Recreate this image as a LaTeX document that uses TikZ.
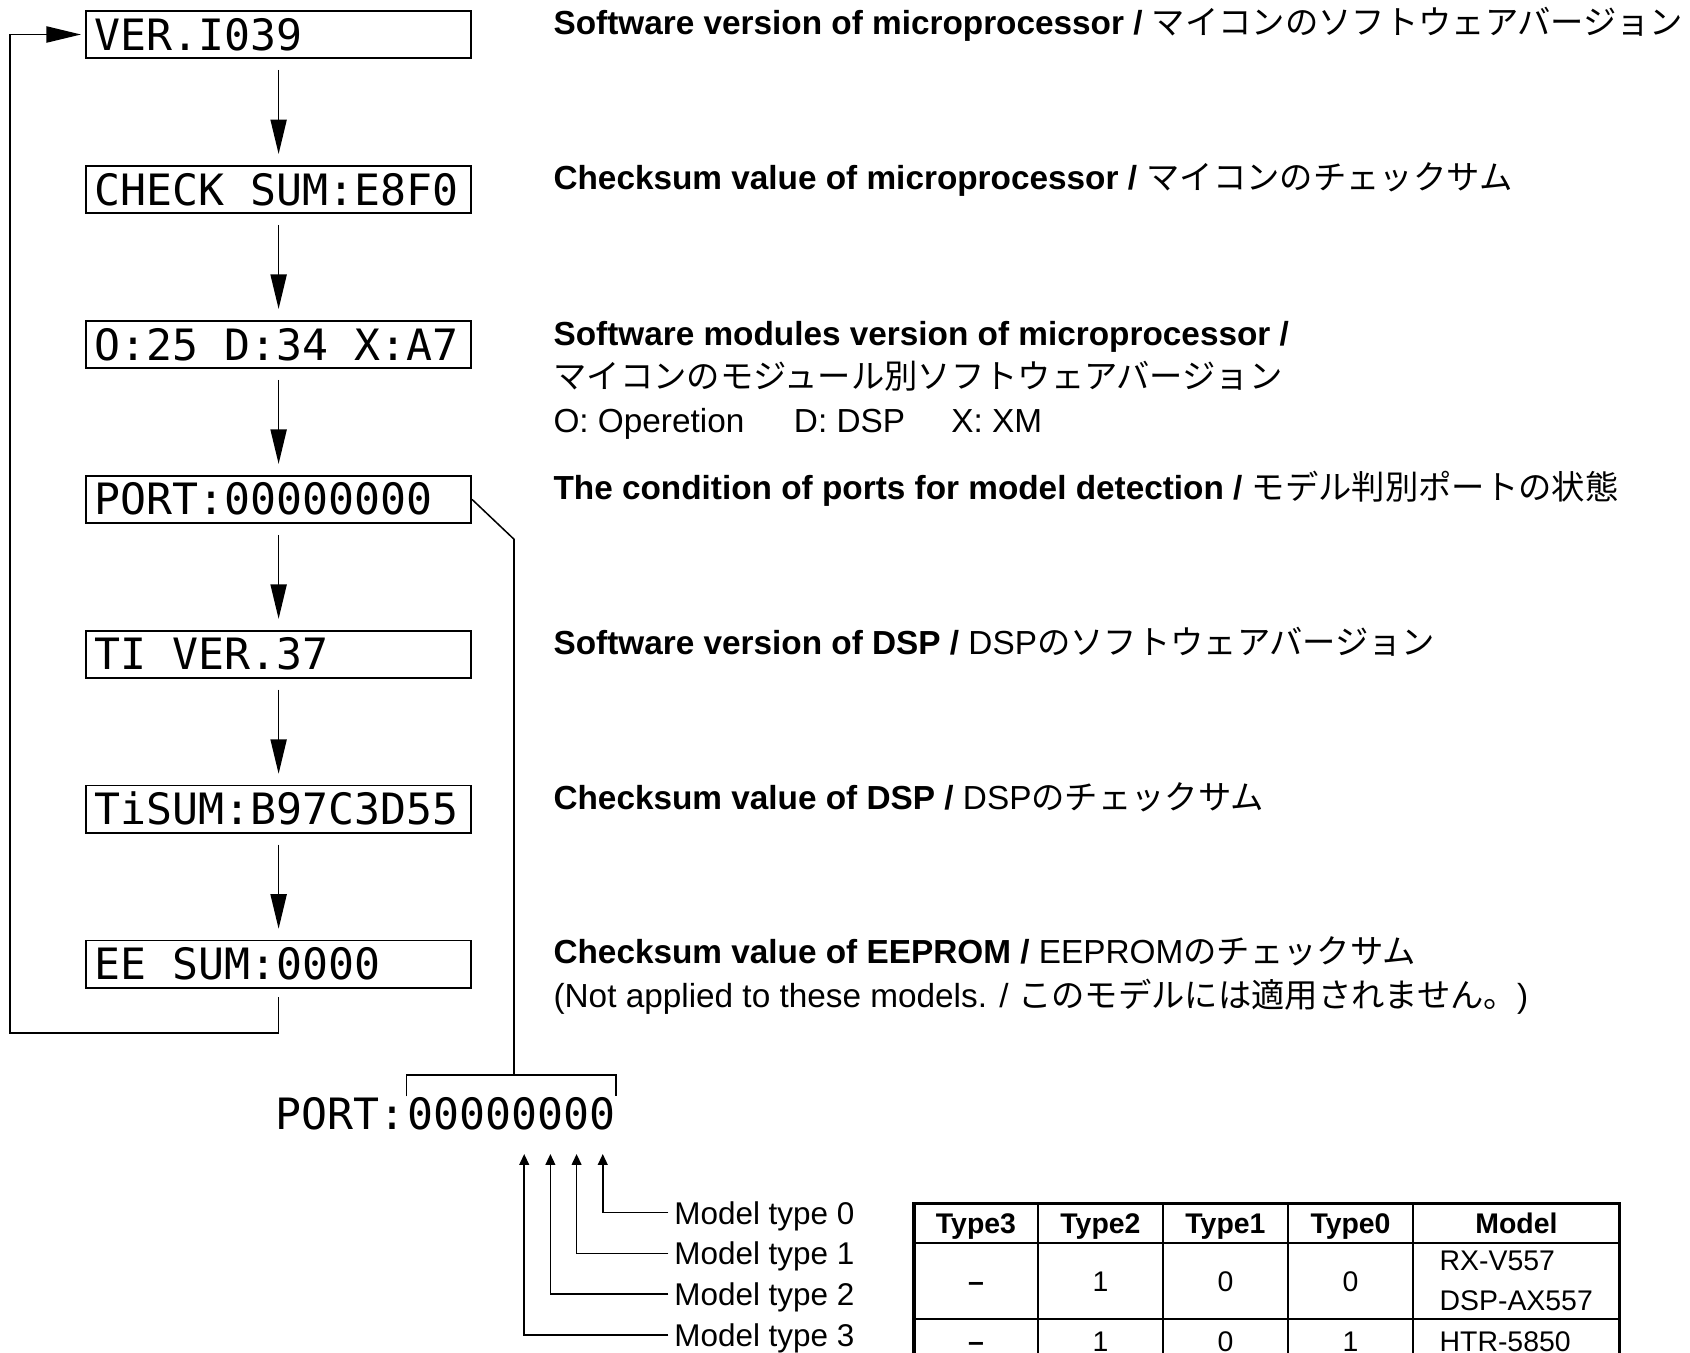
\documentclass[tikz,border=0pt]{standalone}
\usepackage{fontspec}
\setmainfont{Liberation Sans}
\newfontfamily\jp{Noto Sans CJK JP}
\newfontfamily\lcd{DejaVu Sans Mono}
\newcommand\lcdgap{\hphantom{0}}
\usetikzlibrary{arrows.meta,positioning,calc}

\begin{document}
\begin{tikzpicture}[
    lcdbox/.style={draw, line width=0.5pt, minimum height=4.4mm, text width=3.41cm, inner xsep=0.8mm, inner ysep=0pt, align=left, text height=2.9mm, text depth=0pt, font=\lcd\fontsize{11.4pt}{12pt}\selectfont},
    lcdtext/.style={inner sep=0pt, text height=2.9mm, text depth=0pt, font=\lcd\fontsize{11.4pt}{12pt}\selectfont},
    desc/.style={anchor=base west, align=left, inner sep=0pt, font=\fontsize{8.8pt}{11.6pt}\selectfont},
    mtype/.style={inner xsep=0.5mm, inner ysep=0pt, text height=2.9mm, text depth=0.74mm, font=\fontsize{8.3pt}{10pt}\selectfont},
    cell/.style={inner sep=0pt, text height=1.9mm, text depth=0pt, font=\fontsize{7.5pt}{10.5pt}\selectfont},
    headcell/.style={cell, font=\bfseries\fontsize{7.5pt}{10.5pt}\selectfont},
    arrow/.style={-{Triangle[length=3.2mm, width=1.5mm]}, shorten <=1mm, shorten >=1mm},
    tip/.style={-{Triangle[length=1mm, width=0.9mm]}},
    node distance=0.98cm
]
    \useasboundingbox (0,0) rectangle (15.68,-12.55);
    \clip (0,0) rectangle (15.68,-12.55);

    % Display steps
    \node[lcdbox] (ver) at (2.585,-0.32) {VER.I039};
    \node[lcdbox, below=of ver] (chk) {CHECK\lcdgap SUM:E8F0};
    \node[lcdbox, below=of chk] (mods) {O:25\lcdgap D:34\lcdgap X:A7};
    \node[lcdbox, below=of mods] (port) {PORT:00000000};
    \node[lcdbox, below=of port] (tiver) {TI\lcdgap VER.37};
    \node[lcdbox, below=of tiver] (tisum) {TiSUM:B97C3D55};
    \node[lcdbox, below=of tisum] (ee) {EE\lcdgap SUM:0000};

    % Step arrows
    \draw[arrow] (ver) -- (chk);
    \draw[arrow] (chk) -- (mods);
    \draw[arrow] (mods) -- (port);
    \draw[arrow] (port) -- (tiver);
    \draw[arrow] (tiver) -- (tisum);
    \draw[arrow] (tisum) -- (ee);
    \draw[arrow, shorten <=0.8mm, shorten >=0.4mm] (ee.south) -- ++(0,-0.41) -| ([xshift=-7mm]ver.west) -- (ver.west);

    % Descriptions
    \node[desc] (dver) at ([xshift=7.5mm, yshift=-2.3mm]ver.north east) {\textbf{Software version of microprocessor /} {\jp マイコンのソフトウェアバージョン}};
    \node[desc] (dchk) at ([xshift=7.5mm, yshift=-2.3mm]chk.north east) {\textbf{Checksum value of microprocessor /} {\jp マイコンのチェックサム}};
    \node[desc] (dmods) at ([xshift=7.5mm, yshift=-10.5mm]mods.north east) {\textbf{Software modules version of microprocessor /}\\{\jp マイコンのモジュール別ソフトウェアバージョン}\\O: Operetion\hspace{4.6mm}D: DSP\hspace{4.3mm}X: XM};
    \node[desc] (dport) at ([xshift=7.5mm, yshift=-2.3mm]port.north east) {\textbf{The condition of ports for model detection /} {\jp モデル判別ポートの状態}};
    \node[desc] (dtiver) at ([xshift=7.5mm, yshift=-2.3mm]tiver.north east) {\textbf{Software version of DSP /} DSP{\jp のソフトウェアバージョン}};
    \node[desc] (dtisum) at ([xshift=7.5mm, yshift=-2.3mm]tisum.north east) {\textbf{Checksum value of DSP /} DSP{\jp のチェックサム}};
    \node[desc] (dee) at ([xshift=7.5mm, yshift=-6.3mm]ee.north east) {\textbf{Checksum value of EEPROM /} EEPROM{\jp のチェックサム}\\(Not applied to these models. / {\jp このモデルには適用されません。})};

    % Port detail
    \node[lcdtext, anchor=west] (portlbl) at (2.55,-10.335) {PORT:};
    \node[lcdtext, right=0pt of portlbl] (bits) {00000000};
    \coordinate (brtop) at ([yshift=2.1mm]bits.north);
    \draw ([yshift=0.1mm]bits.north west) |- (brtop) -| ([yshift=0.1mm]bits.north east);
    \draw (port.east) -- ++(0.39,-0.37) |- (brtop);

    \coordinate (b0) at ($(bits.south west)!0.9375!(bits.south east) + (0,-0.22)$);
    \coordinate (b1) at ($(bits.south west)!0.8125!(bits.south east) + (0,-0.22)$);
    \coordinate (b2) at ($(bits.south west)!0.6875!(bits.south east) + (0,-0.22)$);
    \coordinate (b3) at ($(bits.south west)!0.5625!(bits.south east) + (0,-0.22)$);

    \node[mtype, anchor=west] (mt0) at (6.20,-11.25) {Model type 0};
    \node[mtype, below=0pt of mt0] (mt1) {Model type 1};
    \node[mtype, below=0pt of mt1] (mt2) {Model type 2};
    \node[mtype, below=0pt of mt2] (mt3) {Model type 3};
    \draw[tip] (mt0.west) -| (b0);
    \draw[tip] (mt1.west) -| (b1);
    \draw[tip] (mt2.west) -| (b2);
    \draw[tip] (mt3.west) -| (b3);

    % Model table
    \draw[line width=0.8pt] (8.48,-11.17) rectangle (15.03,-12.65);
    \draw[line width=0.6pt] (9.63,-11.17) -- (9.63,-12.65)
        (10.79,-11.17) -- (10.79,-12.65)
        (11.95,-11.17) -- (11.95,-12.65)
        (13.11,-11.17) -- (13.11,-12.65);
    \draw[line width=0.6pt] (8.48,-11.53) -- (15.03,-11.53)
        (8.48,-12.24) -- (15.03,-12.24);

    \node[headcell] (th3) at (9.055,-11.35) {Type3};
    \node[headcell] (th2) at (10.21,-11.35) {Type2};
    \node[headcell] (th1) at (11.37,-11.35) {Type1};
    \node[headcell] (th0) at (12.53,-11.35) {Type0};
    \node[headcell] (thm) at (14.07,-11.35) {Model};

    \node[cell] (r1t3) at (9.055,-11.885) {\textbf{–}};
    \node[cell] (r1t2) at (10.21,-11.885) {1};
    \node[cell] (r1t1) at (11.37,-11.885) {0};
    \node[cell] (r1t0) at (12.53,-11.885) {0};
    \node[cell, text height=, text depth=, anchor=west, align=left] (r1m) at (13.35,-11.885) {RX-V557\\DSP-AX557};

    \node[cell] (r2t3) at (9.055,-12.44) {\textbf{–}};
    \node[cell] (r2t2) at (10.21,-12.44) {1};
    \node[cell] (r2t1) at (11.37,-12.44) {0};
    \node[cell] (r2t0) at (12.53,-12.44) {1};
    \node[cell, anchor=west] (r2m) at (13.35,-12.44) {HTR-5850};
\end{tikzpicture}
\end{document}
